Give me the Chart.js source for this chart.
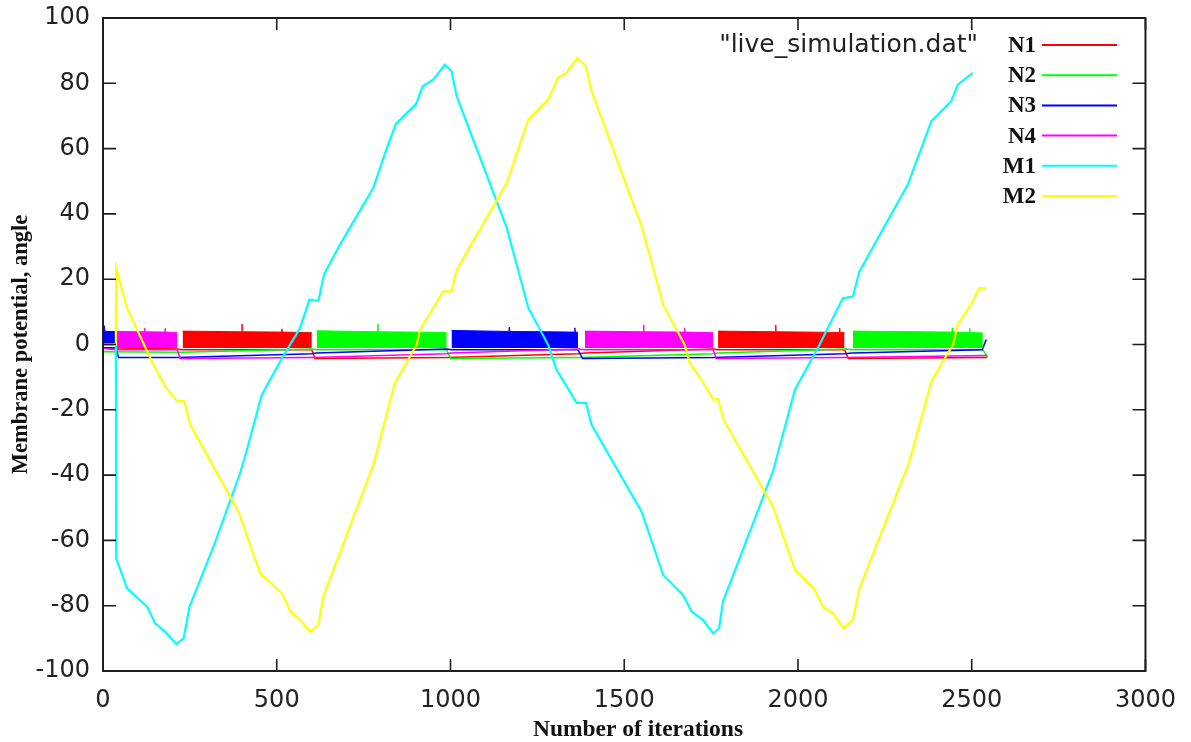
<!DOCTYPE html>
<html>
<head>
<meta charset="utf-8">
<title>live_simulation.dat</title>
<script src="https://cdn.jsdelivr.net/npm/chart.js@4.4.1/dist/chart.umd.min.js"></script>
<style>
  html, body { margin: 0; padding: 0; background: #ffffff; }
  #wrap { width: 1191px; height: 742px; }
</style>
</head>
<body>
<div id="wrap"><canvas id="chart" width="1191" height="742"></canvas></div>
<script>
// 軸刻度
const xTickValues = [0, 500, 1000, 1500, 2000, 2500, 3000];
const yTickValues = [-100, -80, -60, -40, -20, 0, 20, 40, 60, 80, 100];

// 圖例名稱與顏色
const seriesNames = ['N1', 'N2', 'N3', 'N4', 'M1', 'M2'];
const seriesColors = ['#ff0000', '#00ff00', '#0000ff', '#ff00ff', '#00ffff', '#ffff00'];

// M1 (cyan) 讀自圖上的轉折點
const m1Iter = [0, 37, 38, 69, 127, 150, 179, 211, 232, 249, 318, 393, 414, 457, 515, 567, 594, 620, 636, 682,
  778, 817, 843, 901, 920, 951, 984, 1003, 1018, 1162, 1224, 1281, 1305, 1363, 1390, 1406, 1550, 1612, 1669, 1694,
  1727, 1756, 1773, 1784, 1928, 1991, 2062, 2129, 2158, 2177, 2316, 2384, 2441, 2460, 2503];
const m1Val = [0, 0, -65.5, -74.7, -80.3, -85.4, -88.0, -91.7, -90.0, -80.3, -61.9, -39.9, -32.3, -15.4, -4.2, 5.0, 13.7, 13.4, 21.4, 30.6,
  48.0, 60.2, 67.6, 73.7, 79.1, 81.2, 85.7, 83.7, 76.0, 35.7, 11.2, -0.1, -7.7, -17.9, -17.9, -24.6, -51.2, -70.6, -76.7, -81.8,
  -84.4, -88.5, -86.9, -78.8, -38.9, -13.9, -0.1, 14.2, 14.7, 22.4, 49.0, 68.4, 74.5, 79.6, 83.2];

// M2 (yellow)
const m2Iter = [0, 37, 38, 69, 145, 179, 214, 234, 251, 390, 452, 515, 539, 567, 596, 620, 634, 778, 840, 903,
  912, 979, 1003, 1018, 1162, 1224, 1281, 1310, 1334, 1365, 1390, 1406, 1550, 1612, 1674, 1689, 1722, 1756, 1770, 1786,
  1928, 1991, 2048, 2072, 2101, 2131, 2158, 2177, 2321, 2384, 2417, 2446, 2460, 2503, 2522, 2542];
const m2Val = [0, 0, 23.4, 11.2, -6.2, -12.9, -17.5, -17.2, -24.6, -51.2, -70.1, -76.2, -81.8, -84.4, -88.0, -85.9, -77.2, -36.9, -11.8, 0,
  4.5, 16.3, 16.3, 22.9, 49.5, 68.9, 75.0, 81.7, 83.2, 87.8, 85.2, 77.6, 36.2, 12.2, -0.1, -5.7, -10.8, -16.9, -16.7, -23.1,
  -49.6, -69.0, -75.1, -80.3, -82.3, -86.9, -84.4, -74.7, -35.8, -11.3, -5.2, -0.1, 6.1, 13.2, 17.3, 17.1];

// N1..N4 靜止電位 (爆發區塊下方的細線)
const n1Iter = [0, 214, 229, 601, 610, 989, 1367, 1387, 1756, 1770, 2134, 2145, 2545];
const n1Val = [-1.0, -1.4, -1.6, -1.6, -4.3, -4.0, -2.8, -2.6, -1.4, -1.6, -1.6, -4.3, -4.0];
const n2Iter = [0, 229, 601, 615, 989, 1000, 1367, 1756, 1770, 2134, 2158, 2532, 2545];
const n2Val = [-2.2, -2.4, -1.4, -1.6, -1.6, -4.3, -4.0, -2.8, -2.6, -1.4, -1.6, -1.6, -3.8];
const n3Iter = [0, 37, 45, 214, 601, 615, 989, 1003, 1367, 1380, 1756, 2134, 2158, 2530, 2542];
const n3Val = [-1.0, -1.0, -4.0, -4.0, -2.8, -2.6, -1.4, -1.6, -1.6, -4.3, -4.0, -2.8, -2.6, -1.6, 1.5];
const n4Iter = [0, 38, 214, 222, 601, 989, 1003, 1367, 1387, 1756, 1765, 2134, 2545];
const n4Val = [-1.2, -1.6, -1.6, -4.3, -4.0, -2.8, -2.6, -1.4, -1.6, -1.6, -4.3, -4.0, -3.4];

// 爆發期 (密集尖峰看起來像實心區塊): 上緣與下緣
const burstOf = ['N3', 'N4', 'N1', 'N2', 'N3', 'N4', 'N1', 'N2'];
const burstIter = [
  [0, 4, 6, 37],
  [38, 119, 120, 121, 178, 179, 180, 214],
  [229, 399, 400, 401, 514, 515, 516, 601],
  [615, 790, 791, 792, 989],
  [1003, 1168, 1169, 1170, 1357, 1358, 1359, 1367],
  [1387, 1555, 1556, 1557, 1673, 1674, 1675, 1756],
  [1770, 1935, 1936, 1937, 2119, 2120, 2121, 2134],
  [2158, 2443, 2444, 2445, 2493, 2494, 2495, 2532]
];
const burstTop = [
  [5.7, 5.7, 4.0, 4.0],
  [4.0, 3.9, 5.0, 3.9, 3.8, 4.9, 3.8, 3.7],
  [4.1, 3.9, 6.3, 3.9, 3.8, 4.8, 3.8, 3.6],
  [4.2, 3.9, 6.3, 3.9, 3.7],
  [4.3, 4.0, 5.3, 4.0, 3.8, 5.1, 3.8, 3.7],
  [4.1, 3.9, 6.0, 3.9, 3.8, 5.1, 3.8, 3.6],
  [4.1, 3.9, 6.0, 3.9, 3.7, 5.0, 3.7, 3.6],
  [4.1, 3.8, 5.0, 3.8, 3.7, 5.0, 3.7, 3.5]
];
const burstFloor = [-0.3, -1.1, -1.1, -1.1, -1.1, -1.1, -1.1, -1.1];

function pts(xs, ys) {
    return xs.map((x, i) => ({ x: x, y: ys[i] }));
}

const datasets = [];
const restIter = [n1Iter, n2Iter, n3Iter, n4Iter];
const restVal = [n1Val, n2Val, n3Val, n4Val];
restIter.forEach((xs, i) => {
    datasets.push({
        label: seriesNames[i],
        data: pts(xs, restVal[i]),
        borderColor: seriesColors[i],
        borderWidth: 1.5,
        fill: false,
        order: 10 - i
    });
});
burstOf.forEach((name, b) => {
    const c = seriesColors[seriesNames.indexOf(name)];
    datasets.push({
        label: name + ' burst',
        data: pts(burstIter[b], burstTop[b]),
        borderColor: c,
        backgroundColor: c,
        borderWidth: 1,
        fill: { value: burstFloor[b] },
        order: 5
    });
});
datasets.push({ label: 'M1', data: pts(m1Iter, m1Val), borderColor: seriesColors[4], borderWidth: 2.2, fill: false, order: 1 });
datasets.push({ label: 'M2', data: pts(m2Iter, m2Val), borderColor: seriesColors[5], borderWidth: 2.2, fill: false, order: 0 });

// gnuplot 風格: 外框、向內刻度、右上角圖例、x 軸標題
const gnuplotFrame = {
    id: 'gnuplotFrame',
    afterDatasetsDraw(chart) {
        const { ctx, chartArea: a, scales } = chart;
        ctx.save();
        ctx.strokeStyle = '#1e1e1e';
        ctx.lineWidth = 1.6;
        ctx.beginPath();
        xTickValues.forEach(v => {
            const px = scales.x.getPixelForValue(v);
            ctx.moveTo(px, a.bottom); ctx.lineTo(px, a.bottom - 12);
            ctx.moveTo(px, a.top); ctx.lineTo(px, a.top + 12);
        });
        yTickValues.forEach(v => {
            const py = scales.y.getPixelForValue(v);
            ctx.moveTo(a.left, py); ctx.lineTo(a.left + 13, py);
            ctx.moveTo(a.right, py); ctx.lineTo(a.right - 13, py);
        });
        ctx.stroke();
        ctx.lineWidth = 2;
        ctx.strokeRect(a.left, a.top, a.right - a.left, a.bottom - a.top);

        // 圖例
        ctx.textBaseline = 'middle';
        ctx.textAlign = 'right';
        ctx.fillStyle = '#222222';
        ctx.font = '25px "DejaVu Sans"';
        ctx.fillText('"live_simulation.dat"', 978, 45);
        ctx.font = 'bold 23px "Liberation Serif"';
        ctx.lineWidth = 2;
        seriesNames.forEach((name, i) => {
            const yy = 45 + i * 30.2;
            ctx.fillStyle = '#111111';
            ctx.fillText(name, 1036, yy + 1);
            ctx.strokeStyle = seriesColors[i];
            ctx.beginPath();
            ctx.moveTo(1042, yy);
            ctx.lineTo(1117, yy);
            ctx.stroke();
        });

        // x 軸標題 (gnuplot 以畫布置中)
        ctx.textAlign = 'center';
        ctx.fillStyle = '#111111';
        ctx.font = 'bold 23.5px "Liberation Serif"';
        ctx.fillText('Number of iterations', 638, 730);
        ctx.restore();
    }
};

const tickFont = { family: 'DejaVu Sans', size: 24 };

new Chart(document.getElementById('chart'), {
    type: 'line',
    data: { datasets: datasets },
    options: {
        responsive: false,
        animation: false,
        devicePixelRatio: 1,
        layout: { padding: { top: 18, right: 42, bottom: 0, left: 0 } },
        elements: { point: { radius: 0 }, line: { tension: 0 } },
        plugins: { legend: { display: false }, tooltip: { enabled: false } },
        scales: {
            x: {
                type: 'linear',
                min: 0,
                max: 3000,
                afterBuildTicks: s => { s.ticks = xTickValues.map(v => ({ value: v })); },
                afterFit: s => { s.height = 71; },
                grid: { display: false, drawTicks: false },
                border: { display: false },
                ticks: { color: '#222222', font: tickFont, padding: 15, maxRotation: 0, autoSkip: false, callback: v => String(v) },
                title: { display: false }
            },
            y: {
                type: 'linear',
                min: -100,
                max: 100,
                afterBuildTicks: s => { s.ticks = yTickValues.map(v => ({ value: v })); },
                afterFit: s => { s.width = 103; s.paddingTop = 0; s.paddingBottom = 0; },
                grid: { display: false, drawTicks: false },
                border: { display: false },
                ticks: { color: '#222222', font: tickFont, padding: 13, autoSkip: false, callback: v => String(v) },
                title: {
                    display: true, text: 'Membrane potential, angle', color: '#111111',
                    font: { family: 'Liberation Serif', size: 22.5, weight: 'bold' }, padding: { top: 8, bottom: 0 }
                }
            }
        }
    },
    plugins: [gnuplotFrame]
});
</script>
</body>
</html>
